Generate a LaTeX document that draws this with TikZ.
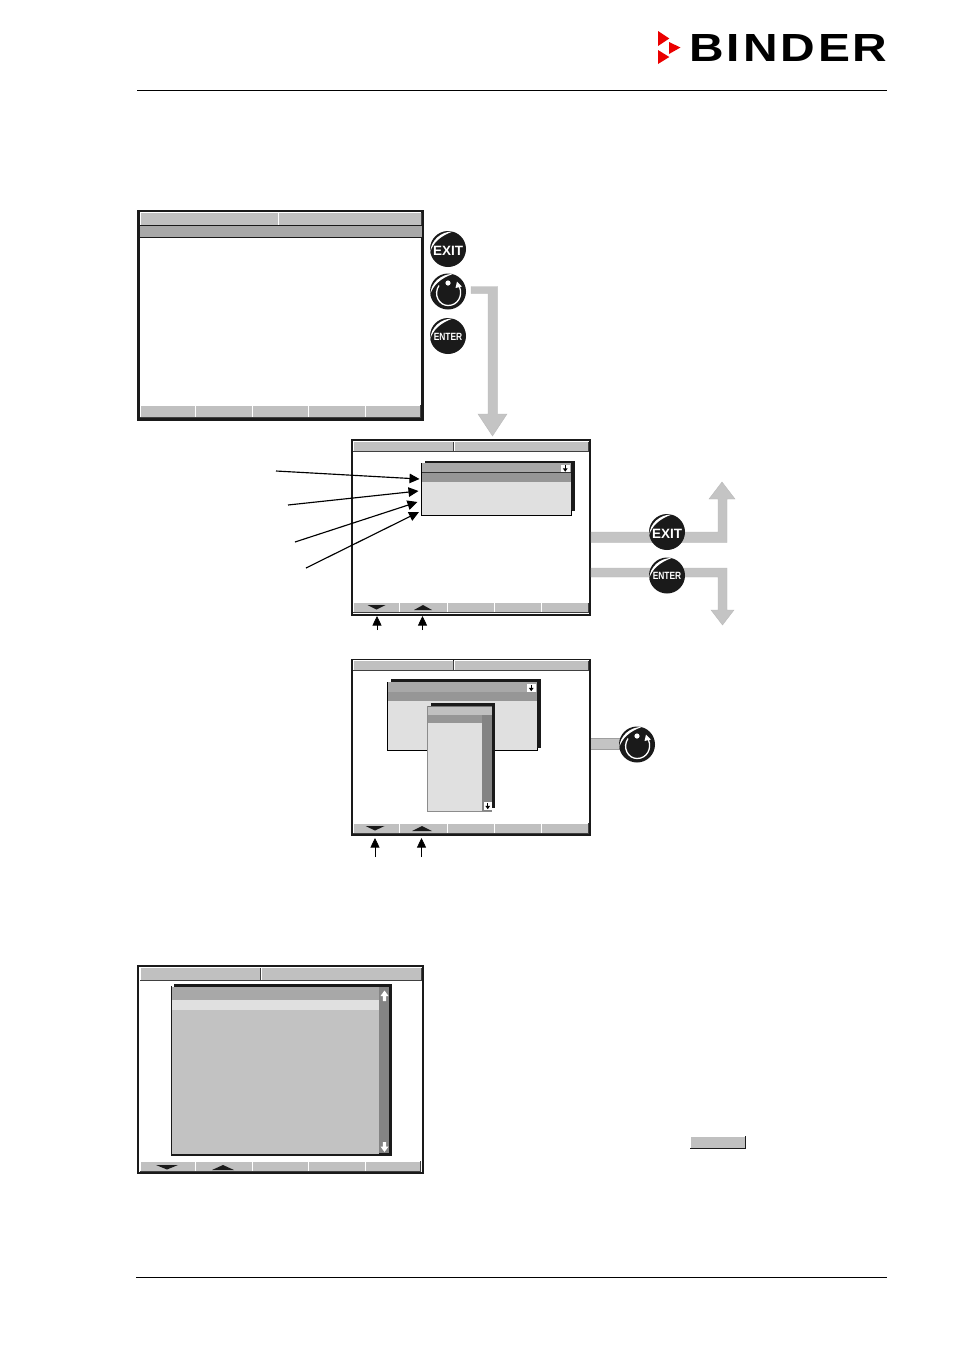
\documentclass[tikz,border=0pt]{standalone}
\usepackage{fontspec}
\setmainfont{Liberation Sans}
\newfontfamily\logofont[LetterSpace=6]{Liberation Sans}
\usetikzlibrary{arrows.meta}
\definecolor{tabgrey}{HTML}{C0C0C0}
\definecolor{titlegrey}{HTML}{A8A8A8}
\definecolor{selgrey}{HTML}{969696}
\definecolor{popgrey}{HTML}{E0E0E0}
\definecolor{scrollgrey}{HTML}{848484}
\definecolor{listgrey}{HTML}{C2C2C2}
\definecolor{flowgrey}{HTML}{C4C4C4}
\definecolor{inkdark}{HTML}{1A1A1A}
\tikzset{
  pointer/.style={draw=black,line width=1.15pt,-{Triangle[length=10pt,width=9.5pt]}},
  thinpointer/.style={draw=black,line width=0.7pt,-{Triangle[length=9.5pt,width=9pt]}},
  flowarrow/.style={fill=flowgrey,draw=black!28,line width=0.35pt},
  flowedge/.style={draw=black!38,line width=0.4pt},
  discbtn/.style={circle,fill=inkdark,draw=none,minimum size=36pt,inner sep=0pt,text=white,font=\bfseries},
  rulefine/.style={draw=black,line width=0.8pt},
}
% bevelled key
\newcommand\bev[4]{%
  \fill[tabgrey] (#1,#2) rectangle (#3,#4);
  \draw[white,line width=0.7pt] (#1,#4) -- (#1,#2) -- (#3,#2);
  \draw[black!75,line width=0.8pt] (#1,#4) -- (#3,#4) -- (#3,#2);
}
% screen frame
\newcommand\screen[5]{%
  \fill[white] (#1,#2) rectangle (#3,#4);
  \draw[inkdark,line width=#5pt] (#1,#2) rectangle (#3,#4);
}
% five soft keys
\newcommand\keys[8]{%
  \bev{#1}{#2}{#4}{#3}\bev{#4}{#2}{#5}{#3}\bev{#5}{#2}{#6}{#3}\bev{#6}{#2}{#7}{#3}\bev{#7}{#2}{#8}{#3}%
}
\newcommand\tridown[3]{\fill[inkdark] (#1-#3,#2-2) -- (#1+#3,#2-2) -- (#1,#2+2.5) -- cycle;}
\newcommand\triup[3]{\fill[inkdark] (#1-#3,#2+2) -- (#1+#3,#2+2) -- (#1,#2-3) -- cycle;}
% scroll icon
\newcommand\scrollicon[2]{%
  \fill[white] (#1,#2) rectangle ++(8.5,7.5);
  \draw[black,line width=0.9pt] (#1+4.25,#2+0.8) -- (#1+4.25,#2+5);
  \fill[black] (#1+1.8,#2+3.8) -- (#1+6.7,#2+3.8) -- (#1+4.25,#2+7.2) -- cycle;
}
% round button: crescent highlight
\newcommand\crescent[1]{%
  \fill[white,shift={(#1)}] (5,-17.6) .. controls (-7,-17.5) and (-17,-9) .. (-17.8,3)
     .. controls (-15,-6) and (-8,-13) .. cycle;
}
\newcommand\knobmark[1]{%
  \fill[white,shift={(#1)}] (0,-8.5) circle (2.6pt);
  \draw[white,line width=1.3pt,shift={(#1)}] (-9,-6) .. controls (-15,3) and (-9,14) .. (0,14)
      .. controls (10,14) and (15,4) .. (11.5,-4.5);
  \fill[white,shift={(#1)}] (7.5,-3.5) -- (14,-5) -- (9,-10) -- cycle;
}
\newcommand\exitlabel{\raisebox{0pt}[12.6pt][0pt]{\fontsize{13.5}{14}\selectfont EXIT}}
\newcommand\enterlabel{\raisebox{0pt}[8.6pt][0pt]{\scalebox{0.8}[1]{\fontsize{10.5}{11}\selectfont ENTER}}}
\begin{document}
\begin{tikzpicture}[x=1pt,y=-1pt]
\useasboundingbox (0,0) rectangle (955,1350);
\fill[white] (0,0) rectangle (955,1350);

% header / footer
\coordinate (hl) at (137,90.5); \coordinate (hr) at (887,90.5);
\coordinate (fl) at (136,1277); \coordinate (fr) at (887,1277);
\draw[rulefine] (hl) -- (hr);
\draw[rulefine] (fl) -- (fr);

% logo
\fill[red!92!black] (658,31) -- (669.3,38.5) -- (658,46) -- cycle;
\fill[red!92!black] (669,42) -- (680.5,47.5) -- (669,54) -- cycle;
\fill[red!92!black] (658,50) -- (669.3,57) -- (658,64) -- cycle;
\node[inner sep=0pt,anchor=center] (logo) at (788.5,47.5)
  {\resizebox{198pt}{27pt}{\logofont\bfseries BINDER}};

% ===== Screen 1 =====
\screen{138.5}{211.5}{422.5}{419.5}{3}
\bev{140}{212.5}{278}{225}\bev{278}{212.5}{421}{225}
\fill[titlegrey] (140,226) rectangle (421.5,237);
\draw[inkdark,line width=0.8pt] (140,225.6) -- (421.5,225.6);
\draw[inkdark,line width=0.8pt] (140,237.3) -- (421.5,237.3);
\keys{140}{405}{417}{195}{252}{308}{365}{420.5}

% ===== flow arrow screen1 -> screen2 =====
\path[flowarrow] (471,286.5) -- (497.7,286.5) -- (497.7,414) -- (507,414) -- (492.5,436)
  -- (478,414) -- (488,414) -- (488,293.5) -- (471,293.5) -- cycle;

% ===== Screen 2 =====
\screen{352}{440}{590}{614.5}{2}
\bev{353}{441.5}{453}{451.5}\bev{454}{441.5}{588.5}{451.5}
\keys{353}{602.5}{612.5}{399}{447}{494}{541}{588.5}
\tridown{376.5}{607}{9}
\triup{423}{608}{9}
% popup
\fill[inkdark] (425,461) rectangle (574.5,510.5);
\fill[popgrey] (421.8,463) rectangle (571,515);
\fill[titlegrey] (421.8,463) rectangle (571,472);
\fill[selgrey] (421.8,472.5) rectangle (571,482);
\draw[black!80,line width=0.7pt] (421.8,472.3) -- (571,472.3);
\draw[black,line width=0.9pt] (421.8,463) -- (421.8,515) -- (571,515) -- (571,510);
\scrollicon{561}{464.5}

% pointers to popup
\coordinate (pa1) at (276,471); \coordinate (pb1) at (419.5,479);
\coordinate (pa2) at (288,505); \coordinate (pb2) at (418.5,491);
\coordinate (pa3) at (295,542); \coordinate (pb3) at (417.5,502);
\coordinate (pa4) at (306,568); \coordinate (pb4) at (419,512);
\draw[pointer] (pa1) -- (pb1);
\draw[pointer] (pa2) -- (pb2);
\draw[pointer] (pa3) -- (pb3);
\draw[pointer] (pa4) -- (pb4);
\coordinate (pa5) at (377,630); \coordinate (pb5) at (377,616);
\coordinate (pa6) at (422.5,630); \coordinate (pb6) at (422.5,616);
\draw[thinpointer] (pa5) -- (pb5);
\draw[thinpointer] (pa6) -- (pb6);

% exit / enter flow arrows
\path[flowarrow] (591,532) -- (718,532) -- (718,499) -- (709,499) -- (722,482) -- (735,499)
  -- (727,499) -- (727,542.5) -- (591,542.5) -- cycle;
\path[flowarrow] (591,568) -- (727,568) -- (727,610) -- (734,610) -- (722.5,625) -- (711,610)
  -- (718,610) -- (718,577) -- (591,577) -- cycle;

% ===== Screen 3 =====
\screen{352}{660}{590}{834.5}{2}
\bev{353}{660.5}{453}{670}\bev{454}{660.5}{588.5}{670}
\keys{353}{823}{833}{399}{447}{494}{541}{588.5}
\tridown{375}{828}{9.5}
\triup{422}{829}{10}
% popup back
\fill[inkdark] (391,679) rectangle (540.5,748);
\fill[popgrey] (387.2,682) rectangle (537,750);
\fill[titlegrey] (387.2,682) rectangle (537,691.5);
\fill[selgrey] (387.2,692) rectangle (537,701);
\draw[black,line width=0.9pt] (387.2,682) -- (387.2,750) -- (537,750) -- (537,748);
\scrollicon{527}{684}
% popup front
\fill[inkdark] (431,703) rectangle (495,808);
\fill[popgrey] (427.8,706) rectangle (492,811);
\fill[tabgrey] (427.8,706) rectangle (492,714.5);
\fill[selgrey] (427.8,715) rectangle (482,723);
\fill[scrollgrey] (482,715) rectangle (492,811);
\draw[black!45,line width=0.8pt] (427.8,706) -- (427.8,811) -- (492,811);
\draw[black!55,line width=0.5pt] (427.8,706) -- (492,706);
\scrollicon{483.5}{802}
% connector to knob
\fill[flowgrey] (591,738) rectangle (622,749);
\draw[flowedge] (591,738) -- (622,738);
\draw[flowedge] (591,749) -- (622,749);
\coordinate (pa7) at (375,857); \coordinate (pb7) at (375,838);
\coordinate (pa8) at (421.5,857); \coordinate (pb8) at (421.5,838);
\draw[thinpointer] (pa7) -- (pb7);
\draw[thinpointer] (pa8) -- (pb8);

% ===== Screen 4 =====
\screen{138}{966}{423}{1173}{2.4}
\bev{140}{967.5}{260}{980}\bev{261}{967.5}{421.5}{980}
\keys{140}{1161}{1171.5}{195}{252}{308}{365}{420.5}
\tridown{167}{1167}{11}
\triup{223}{1168}{11}
% list
\fill[inkdark] (174,984) rectangle (391.7,1155.5);
\fill[listgrey] (172,987) rectangle (379,1154);
\fill[titlegrey] (172,987) rectangle (379,1000);
\fill[popgrey] (172,1000) rectangle (379,1010);
\fill[scrollgrey] (379,987) rectangle (389,1153);
\draw[inkdark,line width=1.1pt] (171.2,986) -- (171.2,1155) -- (391,1155);
% scroll arrows
\fill[white] (384.5,990.5) -- (388.5,996) -- (386.2,996) -- (386.2,1001) -- (382.8,1001) -- (382.8,996) -- (380.5,996) -- cycle;
\fill[white] (384.5,1152) -- (388.5,1146.5) -- (386.2,1146.5) -- (386.2,1142) -- (382.8,1142) -- (382.8,1146.5) -- (380.5,1146.5) -- cycle;

% small key
\fill[tabgrey] (690,1136) rectangle (746,1148);
\draw[white,line width=0.6pt] (690.3,1148) -- (690.3,1136.3) -- (746,1136.3);
\draw[inkdark,line width=0.9pt] (690,1148.2) -- (745.8,1148.2) -- (745.8,1136);

% round buttons
\node[discbtn] (exitA) at (448,249) {\exitlabel};
\crescent{448,249}
\node[discbtn] (knobA) at (448,291.5) {};
\crescent{448,291.5}\knobmark{448,291.5}
\node[discbtn] (enterA) at (448,336) {\enterlabel};
\crescent{448,336}
\node[discbtn] (exitB) at (667,532) {\exitlabel};
\crescent{667,532}
\node[discbtn] (enterB) at (667,575.5) {\enterlabel};
\crescent{667,575.5}
\node[discbtn] (knobB) at (637,744.5) {};
\crescent{637,744.5}\knobmark{637,744.5}
\end{tikzpicture}
\end{document}
